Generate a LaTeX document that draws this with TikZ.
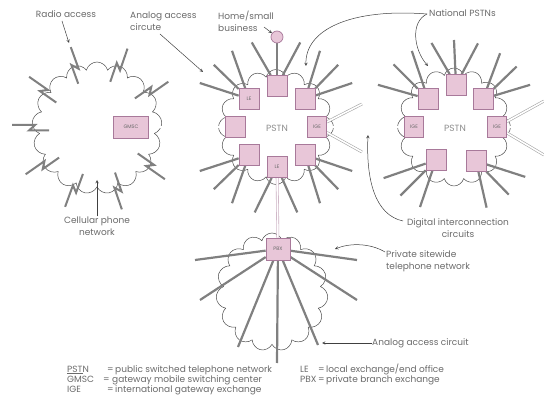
\documentclass[tikz,border=0pt]{standalone}
\usepackage{fontspec}
\setmainfont{Poppins}
\usetikzlibrary{shapes.symbols,arrows,calc}
\definecolor{exfill}{HTML}{E8C6D8}
\definecolor{exline}{HTML}{A8799A}
\definecolor{txt}{HTML}{6A6A6A}
\pgfdeclarelayer{back}
\pgfdeclarelayer{wire}
\pgfsetlayers{back,wire,main}

\begin{document}
\begin{tikzpicture}[x=1pt,y=-1pt]
  \tikzstyle{cloudy}=[cloud,cloud puffs=16,aspect=1,draw=black!70,line width=0.5pt,inner sep=0pt]
  \tikzstyle{ex}=[draw=exline,fill=exfill,line width=0.7pt,minimum width=20pt,minimum height=21pt,inner sep=0pt,text=txt,font=\fontsize{5}{5}\selectfont]
  \tikzstyle{spoke}=[draw=black!50,line width=2.2pt]
  \tikzstyle{trunk}=[draw=black!35,double=white,double distance=1.6pt,line width=0.6pt]
  \tikzstyle{note}=[text=txt,font=\fontsize{9}{12}\selectfont,inner sep=0pt]
  \tikzstyle{key}=[text=txt,font=\fontsize{9}{10}\selectfont,inner sep=0pt,anchor=base west]
  \tikzstyle{pointer}=[draw=black!75,line width=0.5pt,-stealth]

  \useasboundingbox (0,0) rectangle (544,417);

  \begin{pgfonlayer}{back}
    \node[cloudy,cloud puffs=17,minimum width=130pt,minimum height=132pt] (cell) at (97,128) {};
    \node[cloudy,minimum width=115pt,minimum height=115pt] (pstnA) at (276,127) {};
    \node[cloudy,minimum width=113pt,minimum height=118pt] (pstnB) at (454,127) {};
    \node[cloudy,cloud puffs=15,minimum width=112pt,minimum height=118pt] (site) at (272,292) {};
  \end{pgfonlayer}

  \node[ex] (a1) at (277,86) {};
  \node[ex] (a2) at (249,99) {LE};
  \node[ex] (a3) at (305,99) {};
  \node[ex] (a4) at (235,127) {};
  \node[ex,minimum width=19pt] (a5) at (317,127) {IGE};
  \node[ex] (a6) at (249,155) {};
  \node[ex] (a7) at (305,155) {};
  \node[ex] (a8) at (277,167) {LE};

  \node[ex] (b1) at (456,85) {};
  \node[ex] (b2) at (428,99) {};
  \node[ex] (b3) at (483,99) {};
  \node[ex,minimum width=19pt] (b4) at (414,127) {IGE};
  \node[ex,minimum width=19pt] (b5) at (497,127) {IGE};
  \node[ex] (b6) at (436,160) {};
  \node[ex] (b7) at (476,161) {};

  \node[ex,minimum width=35pt,minimum height=22pt] (gmsc) at (131,127) {GMSC};
  \node[ex,minimum width=24pt,minimum height=22pt] (pbx) at (278,249) {PBX};
  \node[circle,draw=exline,fill=exfill,line width=0.7pt,minimum size=12pt,inner sep=0pt] (home) at (277,37) {};

  \node[note,text=black!45] (pA) at (277,128) {PSTN};
  \node[note,text=black!45] (pB) at (455,128) {PSTN};

  \coordinate (t1) at (362,104);
  \coordinate (t2) at (362,152);
  \coordinate (t3) at (544,127);
  \coordinate (t4) at (544,101);
  \coordinate (t5) at (544,155);

  \begin{pgfonlayer}{wire}
    \foreach \b/\a [count=\i] in {a1/-106,a1/-74,a2/-120,a2/-135,a2/-150,a3/-60,a3/-45,a3/-30,a6/120,a6/135,a6/150,a7/60,a7/45,a7/30,a8/104,a8/76} {
      \coordinate (sa\i) at ($(pstnA.center)+(\a:88)$);
      \path[spoke] (\b) -- (sa\i);
    }
    \foreach \b/\a [count=\i] in {b1/-105,b1/-90,b1/-74,b2/-119,b2/-134,b2/-151,b3/-58,b3/-44,b3/-29,b6/144,b6/128,b6/113,b7/68,b7/51,b7/35} {
      \coordinate (sb\i) at ($(pstnB.center)+(\a:87)$);
      \path[spoke] (\b) -- (sb\i);
    }
    \foreach \x/\y [count=\i] in {195/260,200/300,238/347,277/363,318/345,357/300,357/260} {
      \coordinate (sp\i) at (\x,\y);
      \path[spoke] (pbx) -- (sp\i);
    }
    \path[spoke] (a1) -- (home);
    \foreach \a in {-145,-110,-71,-35,35,71,110,145,180} {
      \path[spoke,line width=2pt] ($(cell.center)+(\a:48)+(\a+90:-2.5)$) -- ($(cell.center)+(\a:68)+(\a+90:-2.5)$)
        -- ($(cell.center)+(\a:62)+(\a+90:3)$) -- ($(cell.center)+(\a:85)+(\a+90:3)$);
    }
    \path[trunk] (gmsc) -- (a4);
    \path[trunk] (a5) -- (b4);
    \path[trunk] (a5) -- (t1);
    \path[trunk] (a5) -- (t2);
    \path[trunk] (b5) -- (t3);
    \path[trunk] (b5) -- (t4);
    \path[trunk] (b5) -- (t5);
    \path[trunk,draw=exline!60] (a8) -- (pbx);
  \end{pgfonlayer}

  \node[note] (radio) at (66,14) {Radio access};
  \node[note,align=left,anchor=west] (analog) at (130,21) {Analog access\\circute};
  \node[note,align=left,anchor=west] (small) at (218,21) {Home/small\\business};
  \node[note,anchor=west] (nat) at (429,13) {National PSTNs};
  \node[note,align=center] (digital) at (458,228) {Digital interconnection\\circuits};
  \node[note,align=center] (cellnet) at (97,226) {Cellular phone\\network};
  \node[note,align=left,anchor=west] (private) at (386,261) {Private sitewide\\telephone network};
  \node[note,anchor=west] (aac) at (372,343) {Analog access circuit};

  \coordinate (r1) at (62,21);
  \coordinate (r2) at (69,43);
  \coordinate (n1) at (160,34);
  \coordinate (n2) at (203,72);
  \coordinate (h1) at (264,27);
  \coordinate (g1) at (427,14);
  \coordinate (g2) at (306,66);
  \coordinate (g3) at (428,66);
  \coordinate (d1) at (403,221);
  \coordinate (d2) at (368,135);
  \coordinate (c1) at (97,180);
  \coordinate (v1) at (385,252);
  \coordinate (v2) at (335,249);
  \coordinate (q1) at (322,343);

  \draw[pointer] (r1) -- (r2);
  \draw[pointer] (n1) -- (n2);
  \draw[pointer] (h1) -- (home);
  \draw[pointer] (g1) .. controls (350,8) and (305,30) .. (g2);
  \draw[pointer] (g1) .. controls (410,22) and (414,50) .. (g3);
  \draw[pointer] (d1) .. controls (375,215) and (366,180) .. (d2);
  \draw[pointer] (cellnet) -- (c1);
  \draw[pointer] (v1) .. controls (370,243) and (350,243) .. (v2);
  \draw[pointer] (aac) -- (q1);

  \node[key] (k1) at (67,372) {\underline{PST}N};
  \node[key] (k2) at (107,372) {=};
  \node[key] (k3) at (115,372) {public switched telephone network};
  \node[key] (k4) at (67,382) {GMSC};
  \node[key] (k5) at (103,382) {=};
  \node[key] (k6) at (112,382) {gateway mobile switching center};
  \node[key] (k7) at (67,392) {IGE};
  \node[key] (k8) at (107,392) {=};
  \node[key] (k9) at (115,392) {international gateway exchange};
  \node[key] (k10) at (300,372) {LE};
  \node[key] (k11) at (318,372) {=};
  \node[key] (k12) at (326,372) {local exchange/end office};
  \node[key] (k13) at (300,382) {PBX};
  \node[key] (k14) at (318,382) {=};
  \node[key] (k15) at (326,382) {private branch exchange};
\end{tikzpicture}
\end{document}
